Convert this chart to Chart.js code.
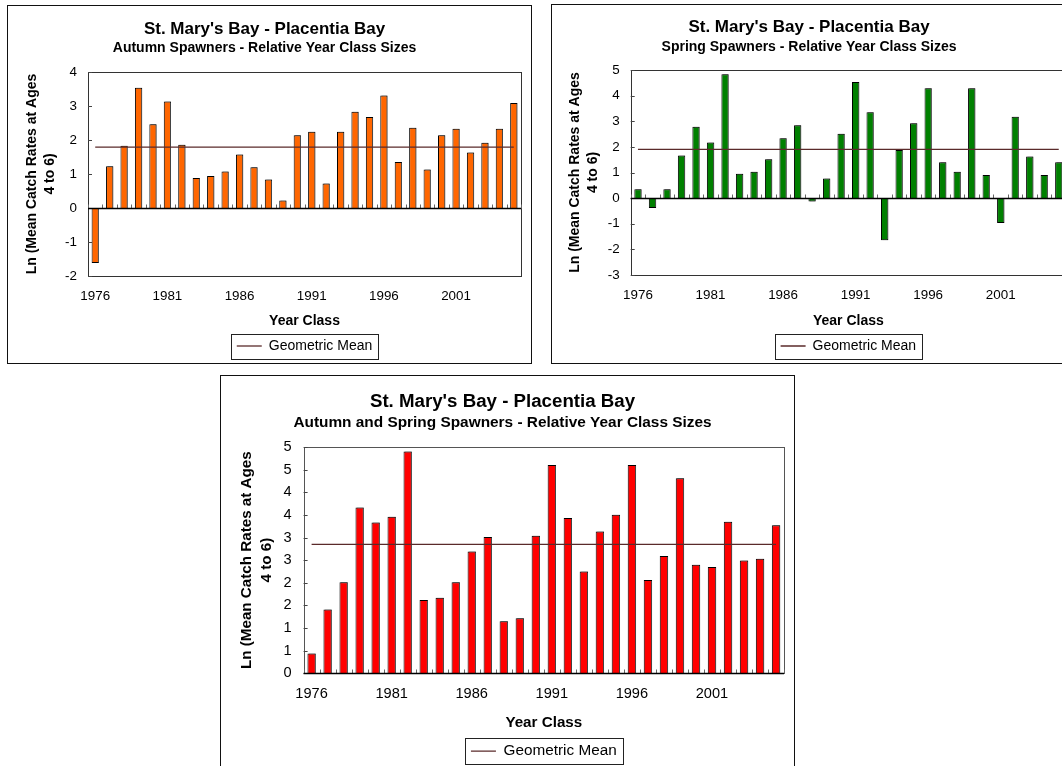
<!DOCTYPE html>
<html>
<head>
<meta charset="utf-8">
<title>St. Mary's Bay - Placentia Bay</title>
<script src="https://cdn.jsdelivr.net/npm/chart.js@4.4.0/dist/chart.umd.min.js"></script>
<style>
  html, body { margin: 0; padding: 0; background: #fff; }
  body { width: 1062px; height: 766px; overflow: hidden; position: relative; }
  .panel { position: absolute; border: 1px solid #111; box-sizing: border-box; background: #fff; overflow: hidden; }
  .panel canvas { position: absolute; left: 0; top: 0; }
</style>
</head>
<body>
<div class="panel" style="left:7px;top:5px;width:525px;height:359px;"><canvas id="autumn" width="523" height="357"></canvas></div>
<div class="panel" style="left:551px;top:4px;width:525px;height:360px;"><canvas id="spring" width="523" height="358"></canvas></div>
<div class="panel" style="left:220px;top:375px;width:575px;height:410px;"><canvas id="combined" width="573" height="408"></canvas></div>

<script>
// Year classes on the category axis
const years = ['1976', '1977', '1978', '1979', '1980', '1981', '1982', '1983', '1984', '1985',
               '1986', '1987', '1988', '1989', '1990', '1991', '1992', '1993', '1994', '1995',
               '1996', '1997', '1998', '1999', '2000', '2001', '2002', '2003', '2004', '2005'];
// only these get a tick label
const labelYears = ['1976', '1981', '1986', '1991', '1996', '2001'];

// Ln(mean catch rates at ages 4 to 6)
const autumnValues = [-1.62, 1.23, 1.83, 3.54, 2.46, 3.13, 1.86, 0.88, 0.94, 1.07,
                      1.57, 1.20, 0.84, 0.22, 2.14, 2.24, 0.72, 2.24, 2.83, 2.68,
                      3.31, 1.35, 2.36, 1.13, 2.14, 2.33, 1.63, 1.92, 2.33, 3.09];
const springValues = [0.35, -0.39, 0.35, 1.66, 2.79, 2.17, 4.83, 0.95, 1.03, 1.52,
                      2.34, 2.84, -0.13, 0.77, 2.51, 4.53, 3.35, -1.64, 1.88, 2.92,
                      4.29, 1.40, 1.03, 4.29, 0.90, -0.97, 3.18, 1.62, 0.90, 1.40];
const combinedValues = [0.44, 1.41, 2.01, 3.66, 3.33, 3.46, 4.90, 1.62, 1.67, 2.01,
                        2.69, 3.01, 1.15, 1.22, 3.04, 4.60, 3.43, 2.25, 3.13, 3.50,
                        4.60, 2.06, 2.59, 4.31, 2.40, 2.35, 3.35, 2.49, 2.53, 3.27];

// geometric mean lines
const autumnMean = 1.79;
const springMean = 1.90;
const combinedMean = 2.85;

const FONT = "'Liberation Sans', Arial, sans-serif";
Chart.defaults.font.family = FONT;
Chart.defaults.color = '#000';

// plot frame, zero line, inside tick marks, bar shadow and the boxed legend (Excel look)
function excelFrame(g) {
    return {
        id: 'excelFrame',
        beforeDatasetDraw(chart, args) {
            if (args.index !== 0) return;
            const { ctx } = chart;
            ctx.save();
            ctx.shadowColor = 'rgba(90,90,90,0.75)';
            ctx.shadowOffsetX = 1.5;
            ctx.shadowOffsetY = 0;
            ctx.shadowBlur = 0;
        },
        afterDatasetDraw(chart, args) {
            if (args.index !== 0) return;
            chart.ctx.restore();
        },
        afterDatasetsDraw(chart) {
            const { ctx, chartArea: a, scales: { x, y } } = chart;
            ctx.save();
            ctx.lineWidth = 1;

            ctx.strokeStyle = g.frameColor;
            ctx.strokeRect(Math.round(a.left) + 0.5, Math.round(a.top) + 0.5,
                           Math.round(a.right - a.left), Math.round(a.bottom - a.top));

            // y tick marks inside
            ctx.strokeStyle = '#444';
            y.ticks.forEach(t => {
                const py = Math.round(y.getPixelForValue(t.value)) + 0.5;
                ctx.beginPath();
                ctx.moveTo(a.left, py);
                ctx.lineTo(a.left + 4, py);
                ctx.stroke();
            });

            // category axis at zero with tick marks between bars
            const y0 = Math.round(y.getPixelForValue(0)) + 0.5;
            const half = (x.getPixelForValue(1) - x.getPixelForValue(0)) / 2;
            ctx.strokeStyle = '#666';
            for (let i = 0; i <= years.length; i++) {
                const px = Math.round(x.getPixelForValue(i) - half) + 0.5;
                ctx.beginPath();
                ctx.moveTo(px, y0);
                ctx.lineTo(px, y0 - 4);
                ctx.stroke();
            }
            ctx.strokeStyle = '#000';
            ctx.lineWidth = 1.5;
            ctx.beginPath();
            ctx.moveTo(a.left, y0);
            ctx.lineTo(a.right, y0);
            ctx.stroke();
            ctx.restore();
        },
        afterDraw(chart) {
            const hb = chart.legend && chart.legend.legendHitBoxes[0];
            if (!hb) return;
            const { ctx } = chart;
            const cy = hb.top + hb.height / 2;
            ctx.save();
            ctx.strokeStyle = '#222';
            ctx.lineWidth = 1;
            ctx.strokeRect(Math.round(hb.left - g.legPadX) + 0.5, Math.round(cy - g.legH / 2) + 0.5,
                           Math.round(hb.width + 2 * g.legPadX), Math.round(g.legH));
            ctx.restore();
        }
    };
}

function makeChart(canvasId, spec) {
    const g = spec.geom;
    const f = spec.fonts;
    const ctx = document.getElementById(canvasId).getContext('2d');
    return new Chart(ctx, {
        type: 'bar',
        data: {
            labels: years,
            datasets: [{
                label: 'Year Class Size',
                data: spec.values,
                backgroundColor: spec.color,
                borderColor: '#000',
                borderWidth: 1,
                barPercentage: spec.barPct,
                categoryPercentage: 1,
                order: 1
            }, {
                type: 'line',
                label: 'Geometric Mean',
                data: [{ x: years[0], y: spec.mean }, { x: years[years.length - 1], y: spec.mean }],
                borderColor: '#5a2a2a',
                borderWidth: 1.3,
                pointRadius: 0,
                fill: false,
                order: 0
            }]
        },
        options: {
            responsive: false,
            animation: false,
            events: [],
            layout: { padding: { top: 0, left: 0, right: g.padR, bottom: g.padB } },
            plugins: {
                title: {
                    display: true,
                    text: "St. Mary's Bay - Placentia Bay",
                    color: '#000',
                    font: { size: f.title, weight: 'bold' },
                    padding: { top: g.titlePadT, bottom: 0 }
                },
                subtitle: {
                    display: true,
                    text: spec.subtitle,
                    color: '#000',
                    font: { size: f.sub, weight: 'bold' },
                    padding: { top: g.subPadT, bottom: g.subPadB }
                },
                legend: {
                    position: 'bottom',
                    fullSize: false,
                    labels: {
                        filter: item => item.datasetIndex === 1,
                        usePointStyle: true,
                        pointStyle: 'line',
                        pointStyleWidth: 25,
                        padding: g.legPad,
                        color: '#000',
                        font: { size: f.legend }
                    }
                },
                tooltip: { enabled: false }
            },
            scales: {
                x: {
                    offset: true,
                    grid: { display: false, drawTicks: false },
                    border: { display: false },
                    ticks: {
                        autoSkip: false,
                        maxRotation: 0,
                        minRotation: 0,
                        padding: g.xTickPad,
                        color: '#000',
                        font: { size: f.tick },
                        callback: (v, i) => labelYears.includes(years[i]) ? years[i] : ''
                    },
                    title: {
                        display: true,
                        text: 'Year Class',
                        color: '#000',
                        font: { size: f.axis, weight: 'bold' },
                        padding: { top: 0, bottom: g.xTitlePadB }
                    },
                    afterFit: s => { s.height = g.xAxisH; }
                },
                y: {
                    min: spec.yMin,
                    max: spec.yMax,
                    grid: { display: false, drawTicks: false },
                    border: { display: false },
                    ticks: {
                        stepSize: spec.yStep,
                        padding: g.yTickPad,
                        color: '#000',
                        font: { size: f.tick },
                        callback: spec.yFormat
                    },
                    title: {
                        display: true,
                        text: ['Ln (Mean Catch Rates at Ages', '4 to 6)'],
                        color: '#000',
                        font: { size: f.axis, weight: 'bold', lineHeight: g.yTitleLH / f.axis },
                        padding: { top: g.yTitlePadT, bottom: 0 }
                    },
                    afterFit: s => { s.width = g.yAxisW; }
                }
            }
        },
        plugins: [excelFrame(g)]
    });
}

const smallFonts = { title: 17, sub: 14, axis: 14, tick: 13.4, legend: 14 };
const bigFonts = { title: 18.7, sub: 15.4, axis: 15.2, tick: 14.6, legend: 15.3 };

makeChart('autumn', {
    values: autumnValues,
    mean: autumnMean,
    color: '#ff6600',
    subtitle: 'Autumn Spawners - Relative Year Class Sizes',
    yMin: -2, yMax: 4, yStep: 1,
    yFormat: v => v,
    barPct: 0.5,
    fonts: smallFonts,
    geom: {
        padR: 10, padB: 0, titlePadT: 12.8, subPadT: 0.4, subPadB: 15.6,
        legPad: 8, legPadX: 6, legH: 25,
        xTickPad: 12.2, xTitlePadB: 1.6, xAxisH: 55,
        yTickPad: 11, yTitleLH: 18, yTitlePadT: 15, yAxisW: 80,
        frameColor: '#333'
    }
});

makeChart('spring', {
    values: springValues,
    mean: springMean,
    color: '#008000',
    subtitle: 'Spring Spawners - Relative Year Class Sizes',
    yMin: -3, yMax: 5, yStep: 1,
    yFormat: v => v,
    barPct: 0.5,
    fonts: smallFonts,
    geom: {
        padR: 9, padB: 0, titlePadT: 12.1, subPadT: 1.4, subPadB: 14.3,
        legPad: 8, legPadX: 6, legH: 25,
        xTickPad: 12.5, xTitlePadB: 1.6, xAxisH: 56,
        yTickPad: 11, yTitleLH: 18.3, yTitlePadT: 14, yAxisW: 78.7,
        frameColor: '#333'
    }
});

makeChart('combined', {
    values: combinedValues,
    mean: combinedMean,
    color: '#ff0000',
    subtitle: 'Autumn and Spring Spawners - Relative Year Class Sizes',
    yMin: 0, yMax: 5, yStep: 0.5,
    yFormat: v => Math.round(v),
    barPct: 0.52,
    fonts: bigFonts,
    geom: {
        padR: 10, padB: 15.3, titlePadT: 14.5, subPadT: 0.5, subPadB: 15,
        legPad: 8, legPadX: 6, legH: 26,
        xTickPad: 12, xTitlePadB: 3.5, xAxisH: 62,
        yTickPad: 12, yTitleLH: 20, yTitlePadT: 16, yAxisW: 82.6,
        frameColor: '#555'
    }
});
</script>
</body>
</html>
